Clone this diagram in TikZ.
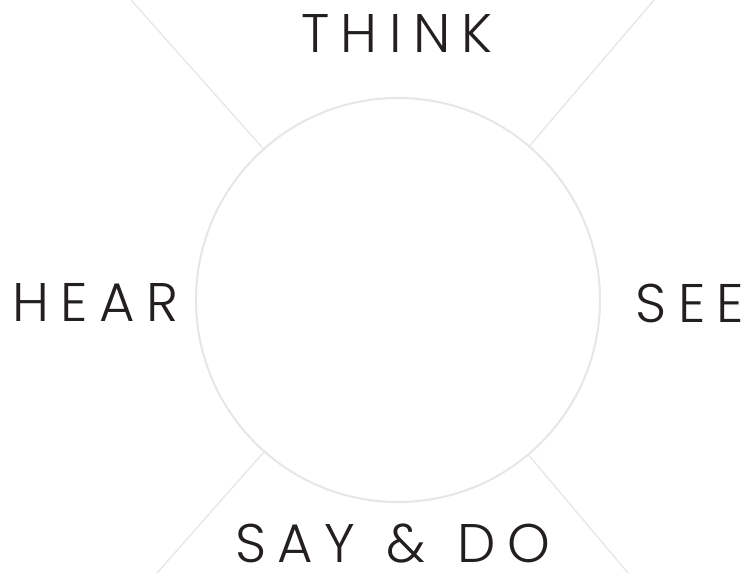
\documentclass[tikz,border=0pt]{standalone}
\usepackage{fontspec}
\setmainfont{Poppins}[UprightFont={* Light},LetterSpace=21]
\definecolor{ringgray}{HTML}{E6E6E6}
\definecolor{inkdark}{HTML}{231F20}
\begin{document}
\begin{tikzpicture}[x=0.0265cm,y=-0.0265cm,
  every node/.style={font=\fontsize{41}{41}\selectfont,text=inkdark,inner sep=0pt},
  ring/.style={draw=ringgray,line width=1.5pt,circle,minimum size=404*0.0265cm},
  spoke/.style={draw=ringgray,line width=1pt}]
  \useasboundingbox (0,0) rectangle (753,573);
  \node[ring] (ring) at (398,300) {};
  \node (think) at (397,33) {THINK};
  \node (hear) at (95,302) {HEAR};
  \node (see) at (690,303) {SEE};
  \node (saydo) at (393,544) {SAY\hspace{0.08em} \&\hspace{0.12em} DO};
  \coordinate (nw) at (131,0);
  \coordinate (ne) at (654,0);
  \coordinate (sw) at (157,573);
  \coordinate (se) at (628,573);
  \foreach \c in {nw,ne,sw,se}
    \draw[spoke] (ring) -- (\c);
\end{tikzpicture}
\end{document}
